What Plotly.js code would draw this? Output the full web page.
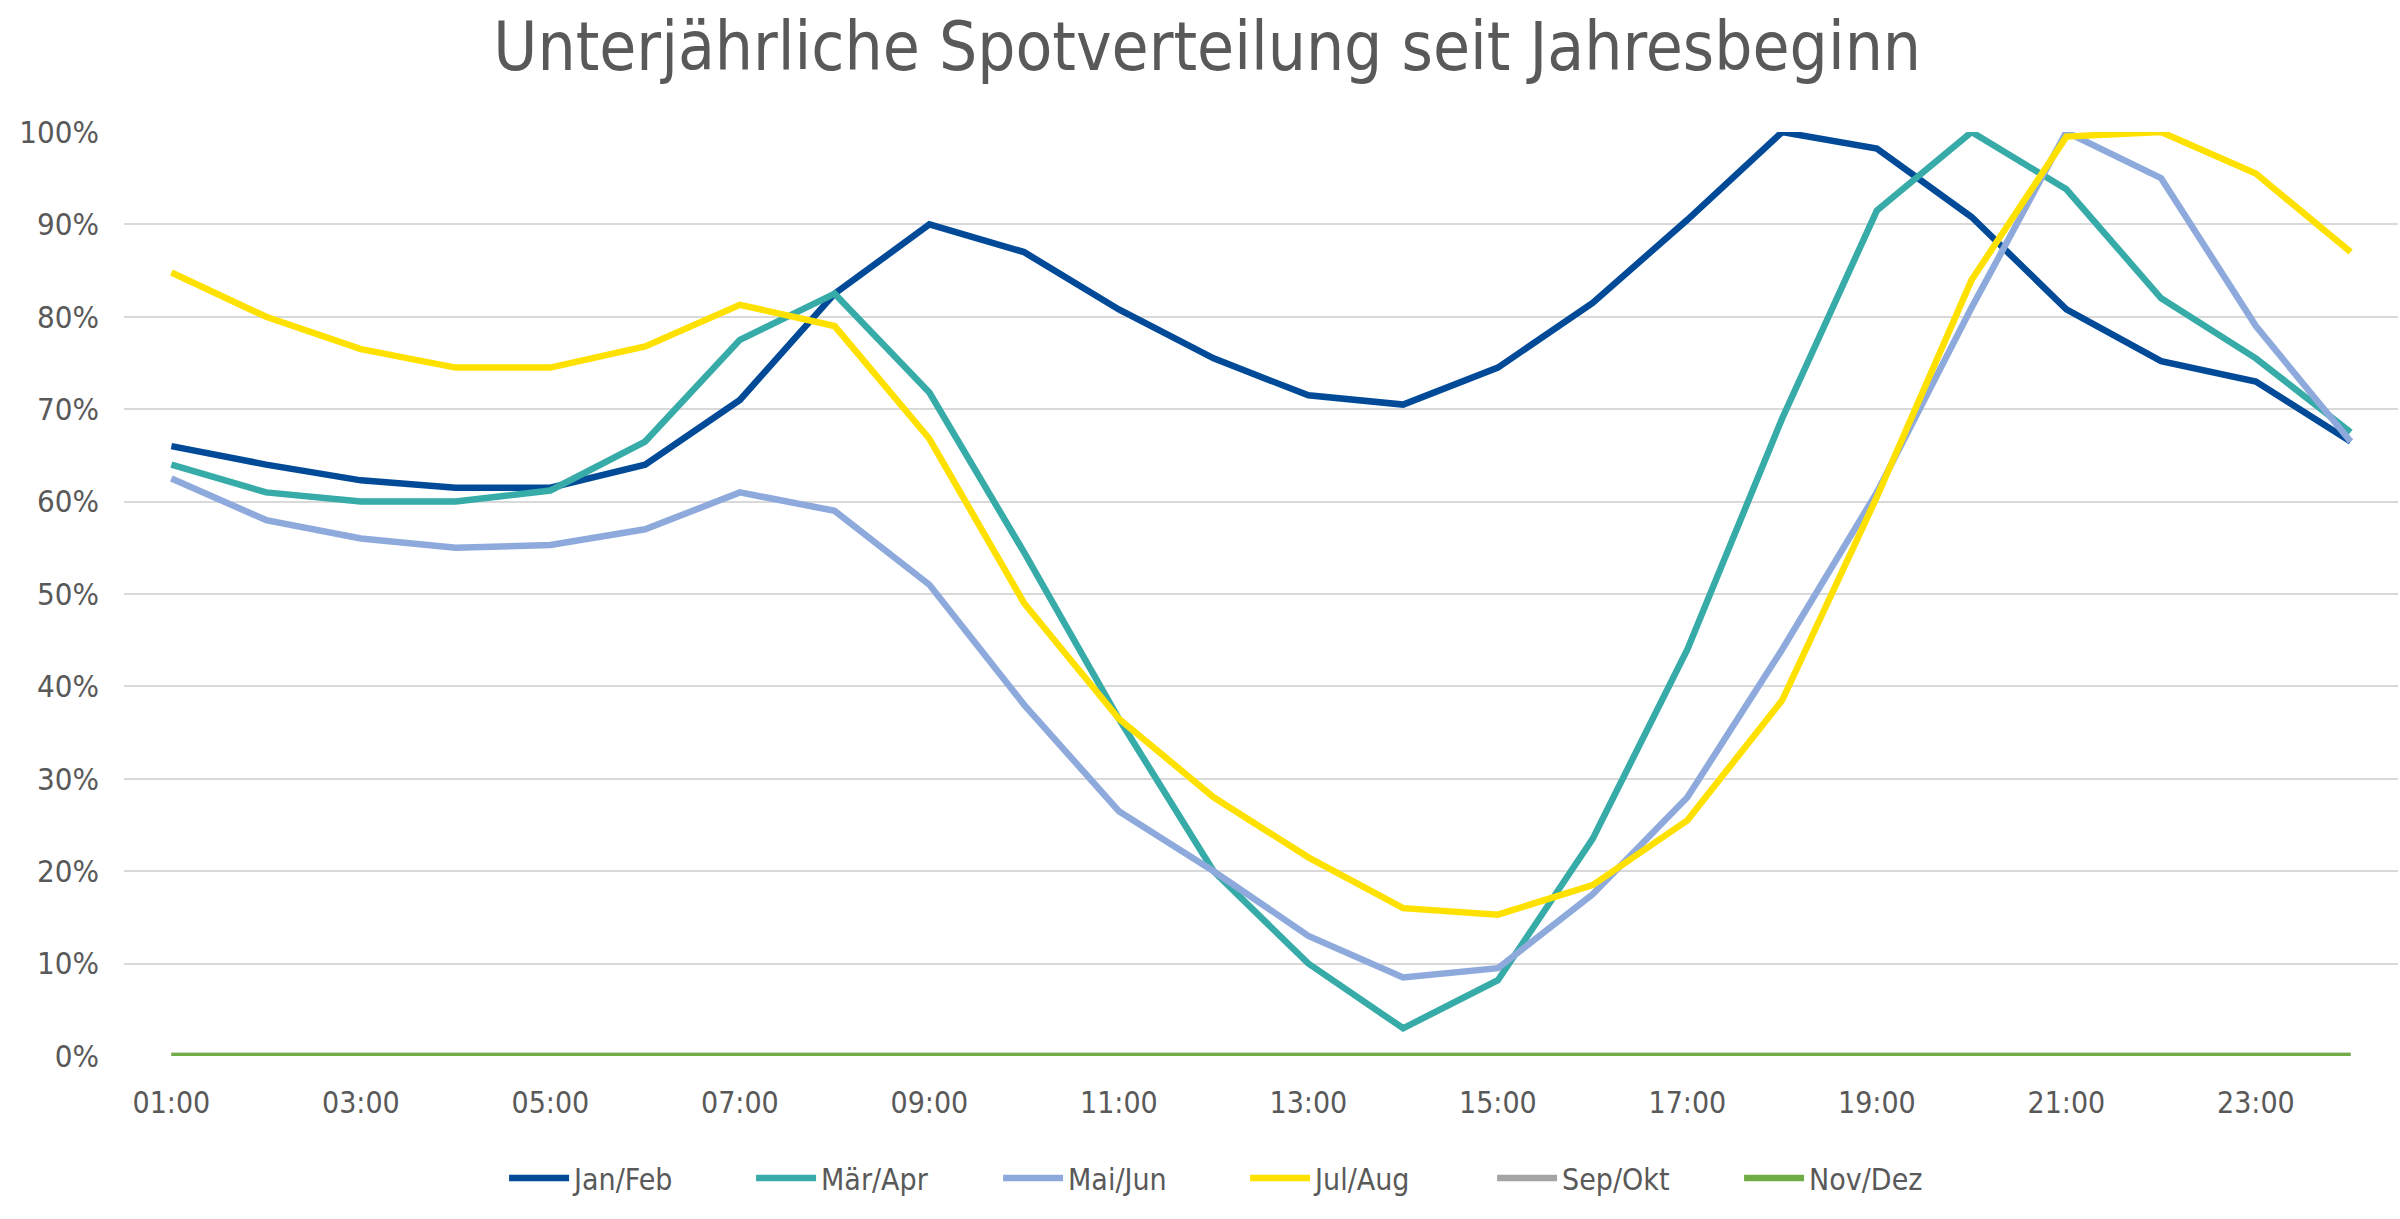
<!DOCTYPE html>
<html>
<head>
<meta charset="utf-8">
<script src="https://cdn.plot.ly/plotly-3.0.1.min.js"></script>
<style>
  html, body { margin: 0; padding: 0; background: #fff; }
  #chart { width: 2400px; height: 1219px; }
</style>
</head>
<body>
<div id="chart"></div>
<script>
// hours of the day, one category per hour
var hours = ['01:00','02:00','03:00','04:00','05:00','06:00','07:00','08:00','09:00','10:00','11:00','12:00',
             '13:00','14:00','15:00','16:00','17:00','18:00','19:00','20:00','21:00','22:00','23:00','24:00'];
var tickHours = ['01:00','03:00','05:00','07:00','09:00','11:00','13:00','15:00','17:00','19:00','21:00','23:00'];

// shares in percent
var janFeb = [66, 64, 62.3, 61.5, 61.5, 64, 71, 82.5, 90, 87, 80.8, 75.5,
              71.5, 70.5, 74.5, 81.5, 90.5, 100, 98.2, 90.8, 80.8, 75.2, 73, 66.5];
var maerApr = [64, 61, 60, 60, 61.2, 66.5, 77.5, 82.5, 71.8, 54.5, 36.5, 20,
               10, 3, 8.2, 23.5, 44, 69, 91.5, 100, 93.8, 82, 75.5, 67.5];
var maiJun = [62.5, 58, 56, 55, 55.3, 57, 61, 59, 51, 38, 26.5, 20,
              13, 8.5, 9.5, 17.5, 28, 44, 61, 81, 100, 95, 79, 66.5];
var julAug = [84.8, 80, 76.5, 74.5, 74.5, 76.8, 81.3, 79, 66.8, 49, 36.5, 28,
              21.5, 16, 15.3, 18.5, 25.5, 38.5, 60.5, 84, 99.5, 100, 95.5, 87];
var sepOkt = [0,0,0,0,0,0,0,0,0,0,0,0,0,0,0,0,0,0,0,0,0,0,0,0];
var novDez = [0,0,0,0,0,0,0,0,0,0,0,0,0,0,0,0,0,0,0,0,0,0,0,0];

var names = ['Jan/Feb', 'Mär/Apr', 'Mai/Jun', 'Jul/Aug', 'Sep/Okt', 'Nov/Dez'];
var series = [janFeb, maerApr, maiJun, julAug, sepOkt, novDez];
var colors = ['#004a98', '#36aba8', '#8eaadc', '#ffe100', '#a5a5a5', '#70ad47'];

var fontFam = '"DejaVu Sans Condensed", "Noto Sans", sans-serif';

var data = [];
for (var i = 0; i < series.length; i++) {
  data.push({
    x: hours,
    y: series[i].map(function (v) { return v / 100; }),
    name: names[i],
    type: 'scatter',
    mode: 'lines',
    cliponaxis: false,
    line: {color: colors[i], width: 6.5},
    hoverinfo: 'x+y+name'
  });
}

var layout = {
  width: 2400,
  height: 1219,
  margin: {l: 124, r: 2, t: 132, b: 163},
  paper_bgcolor: '#ffffff',
  plot_bgcolor: '#ffffff',
  font: {family: fontFam, color: '#595959', size: 30},
  title: {
    text: 'Unterjährliche Spotverteilung seit Jahresbeginn',
    font: {family: fontFam, size: 67, color: '#595959'},
    x: 0.503, xref: 'container', xanchor: 'center',
    y: 0.962, yref: 'container', yanchor: 'middle'
  },
  xaxis: {
    type: 'category',
    range: [-0.5, 23.5],
    tickmode: 'array',
    tickvals: tickHours,
    ticktext: tickHours,
    showgrid: false,
    zeroline: false,
    showline: false,
    ticks: '',
    ticklen: 0,
    ticklabelstandoff: 26,
    tickfont: {size: 30, color: '#595959'},
    automargin: false
  },
  yaxis: {
    range: [0, 1],
    tickformat: '.0%',
    dtick: 0.1,
    showgrid: true,
    gridcolor: '#d9d9d9',
    gridwidth: 2,
    zeroline: false,
    showline: false,
    ticks: '',
    ticklabelstandoff: 24,
    tickfont: {size: 31, color: '#595959'},
    automargin: false
  },
  showlegend: true,
  legend: {
    orientation: 'h',
    x: 0.493, xanchor: 'center',
    y: -0.132, yanchor: 'middle',
    font: {size: 30, color: '#595959'},
    traceorder: 'normal',
    itemwidth: 60,
    entrywidth: 172,
    entrywidthmode: 'pixels'
  },
  hovermode: 'closest'
};

Plotly.newPlot('chart', data, layout, {displayModeBar: false, responsive: false});
</script>
</body>
</html>
